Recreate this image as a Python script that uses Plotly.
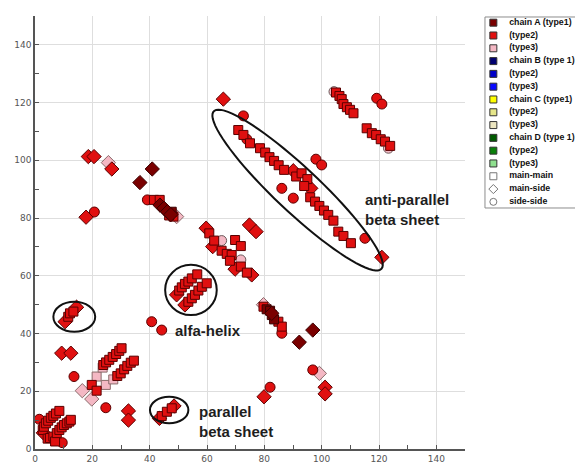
import numpy as np
import plotly.graph_objects as go

# ---------------- data (residue i, residue j) ----------------
# chain A type2 (red)
red_sq_x = [2.7, 3.1, 3.8, 4.6, 5.5, 6.4, 7.3, 8.5,
            4.4, 5.2, 6.4, 7.0, 7.6, 8.5, 9.3, 10.1, 11.1, 12.0, 12.5,
            19.8, 21.5,
            23.8, 24.8, 25.9, 27.1, 28.3, 29.4, 30.2,
            28.7, 29.9, 31.1, 32.2, 33.4, 34.5,
            11.6, 12.2, 13.4,
            44.2, 46.0, 47.7,
            50.3, 51.2, 52.3, 53.5, 54.7, 56.6,
            53.5, 54.7, 55.8, 57.0, 58.2, 59.9,
            60.8, 62.5, 65.1, 66.9, 68.6, 68.0, 69.8, 71.8, 71.8, 73.9,
            41.5, 43.5, 48.3, 46.8,
            79.7, 84.9, 86.1,
            70.9, 72.7, 75.0, 78.5, 80.3, 81.8, 83.4, 85.0, 86.9, 91.1, 93.0, 95.0, 93.9,
            96.0, 97.7, 99.2, 100.8, 102.3, 104.1, 105.8, 107.6, 110.2,
            105.0, 106.2, 107.0, 107.6, 108.8, 109.9, 111.1,
            115.7, 117.5, 119.0, 120.6, 122.1, 123.9]
red_sq_y = [6.6, 7.7, 8.9, 9.8, 10.8, 11.5, 12.3, 13.2,
            3.6, 3.8, 4.3, 2.6, 5.5, 6.6, 7.5, 8.3, 8.9, 9.5, 10.1,
            22.2, 20.2,
            29.1, 30.0, 30.9, 31.9, 32.9, 34.0, 34.9,
            25.3, 26.2, 27.6, 28.8, 29.9, 30.6,
            45.8, 47.0, 47.6,
            11.4, 12.9, 14.1,
            54.9, 56.0, 57.2, 58.0, 59.1, 60.5,
            51.0, 52.2, 53.4, 54.9, 56.2, 57.4,
            74.7, 72.2, 68.7, 67.6, 67.2, 65.2, 72.4, 70.3, 63.2, 61.1,
            86.3, 86.3, 80.5, 80.9,
            49.3, 44.1, 42.4,
            110.5, 108.8, 105.9, 104.2, 102.7, 101.1, 99.8, 98.3, 96.7, 94.4, 95.5, 93.5, 91.1,
            87.2, 85.7, 84.2, 82.6, 81.1, 79.1, 75.3, 73.8, 71.3,
            123.5, 122.3, 121.2, 119.5, 118.4, 117.5, 116.3,
            111.1, 109.4, 108.8, 107.3, 106.5, 105.0]
red_di_x = [2.9, 9.3, 12.5, 32.6, 32.6, 10.5, 14.5, 43.4, 48.5, 49.4, 52.3,
            59.7, 62.0, 69.8, 75.6, 74.8, 77.1, 18.6, 20.6, 26.8, 17.8,
            65.7, 90.1, 96.2, 121.0, 101.2, 101.2, 79.9]
red_di_y = [5.6, 33.2, 33.2, 13.2, 10.0, 44.1, 49.1, 10.6, 14.9, 53.4, 49.9,
            76.5, 70.1, 62.3, 60.3, 77.6, 75.3, 101.3, 101.3, 97.0, 80.3,
            121.2, 96.4, 90.3, 66.4, 21.4, 19.1, 18.1]
red_ci_x = [1.5, 9.5, 13.6, 24.7, 40.7, 44.2, 20.7, 39.2, 86.1, 96.9, 82.0,
            72.7, 73.9, 86.1, 90.1, 98.0, 100.0, 115.1, 119.2, 121.0]
red_ci_y = [10.3, 2.2, 25.1, 14.3, 44.1, 41.2, 82.1, 86.3, 40.1, 27.4, 21.4,
            115.4, 107.3, 90.3, 86.9, 100.4, 98.4, 73.0, 121.5, 119.5]
# chain A type1 (dark red)
dark_sq_x = [80.8, 82.0, 82.6, 83.4, 47.7]
dark_sq_y = [48.4, 47.9, 46.4, 44.9, 82.2]
dark_di_x = [36.6, 40.9, 43.6, 45.0, 46.2, 47.4, 82.6, 92.2, 96.9]
dark_di_y = [92.3, 97.0, 84.5, 83.4, 82.2, 81.2, 47.0, 37.0, 41.2]
# chain A type3 (pink)
pink_sq_x = [21.5, 24.7, 23.6, 27.3]
pink_sq_y = [25.1, 22.2, 28.2, 24.1]
pink_di_x = [16.5, 19.8, 25.6, 49.4, 79.7, 99.2]
pink_di_y = [20.2, 17.3, 99.2, 80.5, 50.0, 26.2]
pink_ci_x = [65.1, 71.8, 104.3, 123.3]
pink_ci_y = [72.2, 65.5, 123.8, 104.2]

# legend entries
legend_labels = ["chain A (type1)", "(type2)", "(type3)",
                 "chain B (type 1)", "(type2)", "(type3)",
                 "chain C (type1)", "(type2)", "(type3)",
                 "chain D (type 1)", "(type2)", "(type3)",
                 "main-main", "main-side", "side-side"]
legend_colors = ["#7a0000", "#e01010", "#f4b8c4",
                 "#000070", "#0000c8", "#0a0aff",
                 "#ffff00", "#e6e68a", "#ece6c0",
                 "#005a00", "#0a800a", "#8fe08f",
                 "#ffffff", "#ffffff", "#ffffff"]
legend_symbols = ["square"] * 13 + ["diamond", "circle"]

# annotation labels
text_labels = ["anti-parallel<br>beta sheet", "alfa-helix", "parallel<br>beta sheet"]

# ---------------- figure ----------------
fig = go.Figure()
RED, DARK, PINK = "#e01010", "#7a0000", "#f4b8c4"

def add(xs, ys, color, symbol, size, lc):
    fig.add_trace(go.Scatter(x=xs, y=ys, mode="markers", showlegend=False, hoverinfo="skip",
                             marker=dict(symbol=symbol, size=size, color=color,
                                         line=dict(color=lc, width=1))))

add(pink_sq_x, pink_sq_y, PINK, "square", 9, "#8a6a6a")
add(pink_di_x, pink_di_y, PINK, "diamond", 11, "#8a6a6a")
add(pink_ci_x, pink_ci_y, PINK, "circle", 10, "#6a5a5a")
add(red_ci_x, red_ci_y, RED, "circle", 10, "#5a0000")
add(red_di_x, red_di_y, RED, "diamond", 11, "#5a0000")
add(red_sq_x, red_sq_y, RED, "square", 9, "#5a0000")
add(dark_sq_x, dark_sq_y, DARK, "square", 9, "#3a0000")
add(dark_di_x, dark_di_y, DARK, "diamond", 11, "#3a0000")

# legend as a small subplot
n = len(legend_labels)
idx = [-i for i in range(n)]
lc = ["#333333"] * 12 + ["#777777"] * 3
fig.add_trace(go.Scatter(x=[0.09] * n, y=idx, mode="markers", xaxis="x2", yaxis="y2",
                         showlegend=False, hoverinfo="skip", cliponaxis=False,
                         marker=dict(symbol=legend_symbols, size=7, color=legend_colors,
                                     line=dict(color=lc, width=1))))
fig.add_trace(go.Scatter(x=[0.26] * n, y=idx, mode="text", xaxis="x2", yaxis="y2",
                         showlegend=False, hoverinfo="skip", cliponaxis=False,
                         text=["<b>" + s + "</b>" for s in legend_labels],
                         textposition="middle right",
                         textfont=dict(family="Liberation Sans, Arial", size=8.8, color="#111")))

# ellipses
shapes = []
def ell(cx, cy, rx, ry):
    shapes.append(dict(type="circle", xref="x", yref="y", x0=cx - rx, x1=cx + rx,
                       y0=cy - ry, y1=cy + ry, line=dict(color="#111", width=2)))
ell(13.7, 45.8, 7.3, 5.2)
ell(54.4, 55.1, 9.0, 8.7)
ell(46.8, 13.5, 6.7, 4.6)
# rotated ellipse around anti-parallel sheet
cx, cy, a, b, th = 91.6, 89.7, 40.0, 7.7, np.deg2rad(-43)
t = np.linspace(0, 2 * np.pi, 80)
ex = cx + a * np.cos(th) * np.cos(t) - b * np.sin(th) * np.sin(t)
ey = cy + a * np.sin(th) * np.cos(t) + b * np.cos(th) * np.sin(t)
path = "M " + " L ".join(f"{u:.3f},{v:.3f}" for u, v in zip(ex, ey)) + " Z"
shapes.append(dict(type="path", xref="x", yref="y", path=path, line=dict(color="#111", width=2)))
# legend border
shapes.append(dict(type="rect", xref="paper", yref="paper", x0=0.8287, x1=1.0, y0=0.5566, y1=0.9977,
                   line=dict(color="#8c8c8c", width=1), fillcolor="rgba(0,0,0,0)"))

afont = dict(family="Liberation Sans, Arial", size=15, color="#1e1e1e")
annotations = [
    dict(x=114.4, y=82.8, text="<b>" + text_labels[0] + "</b>", showarrow=False, xanchor="left",
         yanchor="middle", align="left", font=afont),
    dict(x=48.3, y=41.2, text="<b>" + text_labels[1] + "</b>", showarrow=False, xanchor="left",
         yanchor="middle", align="left", font=afont),
    dict(x=56.5, y=9.7, text="<b>" + text_labels[2] + "</b>", showarrow=False, xanchor="left",
         yanchor="middle", align="left", font=afont),
]

axis_common = dict(range=[0, 150], tickvals=list(range(0, 141, 20)), showgrid=True,
                   gridcolor="#dedede", gridwidth=1, showline=True, linecolor="#555",
                   linewidth=1.5, ticks="inside", ticklen=4, tickcolor="#555", zeroline=False,
                   automargin=False,
                   tickfont=dict(family="DejaVu Sans", size=9, color="#555"),
                   minor=dict(ticks="inside", dtick=10, ticklen=4, tickcolor="#555", showgrid=False),
                   fixedrange=True)

# page body has an 8px default margin: size the figure so it sits exactly in the window
fig.update_layout(
    width=575, height=458, margin=dict(l=27, r=5, t=8, b=17),
    paper_bgcolor="white", plot_bgcolor="white",
    xaxis=dict(domain=[0, 430 / 543], **axis_common),
    yaxis=dict(domain=[0, 1], **axis_common),
    xaxis2=dict(domain=[0.8287, 1.0], range=[0, 1], visible=False, anchor="y2", automargin=False),
    yaxis2=dict(domain=[0.5566, 0.9977], range=[-14.48, 0.445], visible=False, anchor="x2",
                automargin=False),
    shapes=shapes, annotations=annotations, showlegend=False,
)

fig.write_html("out.html")
